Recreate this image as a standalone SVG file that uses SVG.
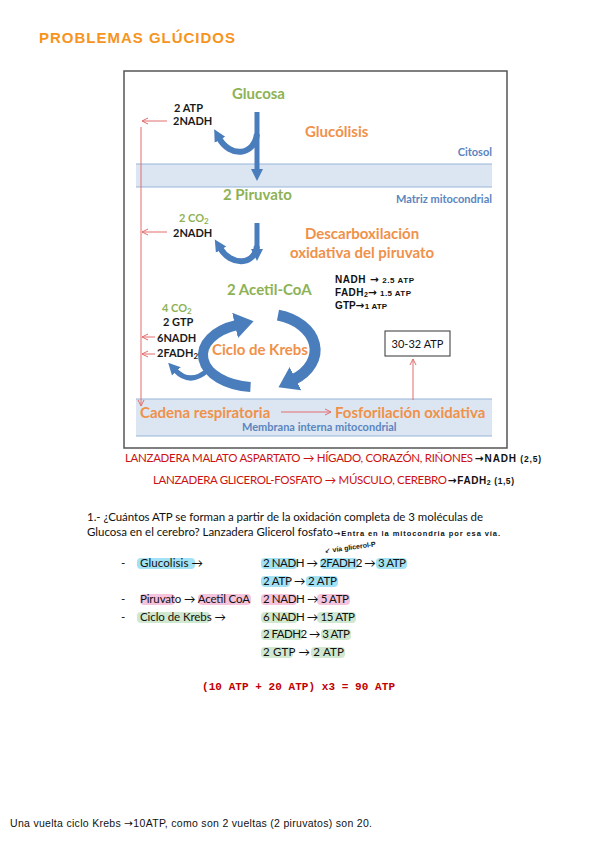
<svg xmlns="http://www.w3.org/2000/svg" width="599" height="848" viewBox="0 0 599 848">
<defs>
<style>
text{font-family:Lato,"Open Sans","Liberation Sans",sans-serif}
.g{fill:#8db255;font-weight:bold;font-size:15px}
.o{fill:#f0914a;font-weight:bold;font-size:15px}
.bl{fill:#5b85c0;font-weight:bold;font-size:11px}
.k{fill:#1a1a1a;font-weight:bold;font-size:11px}
.gs{fill:#8db255;font-weight:bold;font-size:11px}
.hw{font-family:"Liberation Sans",Arial,sans-serif;font-weight:bold;fill:#111}
.ar{font-family:"DejaVu Sans",sans-serif}
.arial{font-family:"Liberation Sans",Arial,sans-serif}
.mono{font-family:"Liberation Mono","Courier New",monospace}
.red{fill:#cc1111;font-size:11.5px}
.body{fill:#111;font-size:11.5px}
.band{fill:#dce6f2}
.bl1{stroke:#95b3d7;stroke-width:1.2}
.rc{stroke:#e36c6c;stroke-width:1;fill:none}
.ba{stroke:#4a7dbb;fill:none}
.hb{fill:#a3e2f4}
.hp{fill:#f6c3dc}
.hg{fill:#cfe8cf}
</style>
<marker id="ra" markerWidth="8" markerHeight="8" refX="7" refY="4" orient="auto" markerUnits="userSpaceOnUse"><path d="M1,1 L7,4 L1,7" fill="none" stroke="#e36c6c" stroke-width="1"/></marker>
<marker id="bah" markerWidth="14" markerHeight="14" refX="2" refY="7" orient="auto" markerUnits="userSpaceOnUse"><path d="M0,1 L12,7 L0,13 Z" fill="#4a7dbb"/></marker>
<marker id="bk" markerWidth="22" markerHeight="26" refX="2" refY="13" orient="auto" markerUnits="userSpaceOnUse"><path d="M0,0 L19,13 L0,26 Z" fill="#4a7dbb"/></marker>
</defs>
<rect width="599" height="848" fill="#ffffff"/>

<text id="title" class="arial" x="39" y="43" fill="#f7941d" font-size="15" font-weight="bold" textLength="196">PROBLEMAS GLÚCIDOS</text>

<g id="figure">
<rect x="124" y="71" width="383" height="377" fill="#fff" stroke="#555" stroke-width="1.5"/>
<rect class="band" x="136" y="164" width="356" height="23"/>
<line class="bl1" x1="136" y1="164" x2="492" y2="164"/>
<line class="bl1" x1="136" y1="187" x2="492" y2="187"/>
<rect class="band" x="136" y="399" width="356" height="37"/>
<line class="bl1" x1="136" y1="399" x2="492" y2="399"/>
<line class="bl1" x1="136" y1="436" x2="492" y2="436"/>
</g>

<g id="connectors">
<line class="ba" x1="257" y1="112" x2="257" y2="171" stroke-width="5" marker-end="url(#bah)"/>
<path class="ba" d="M257,134 C254,156 230,158 219,138" stroke-width="6" marker-end="url(#bah)"/>
<line class="ba" x1="257" y1="223" x2="257" y2="251" stroke-width="5" marker-end="url(#bah)"/>
<path class="ba" d="M257,246 C254,266 231,266 220,248" stroke-width="6" marker-end="url(#bah)"/>
<path class="ba" d="M250.5,386.9 A52,32 0 0 1 237,325" stroke-width="10" marker-end="url(#bk)"/>
<path class="ba" d="M278,315.2 A50,36 0 0 1 293.7,379.5" stroke-width="11" marker-end="url(#bk)"/>
<path class="ba" d="M208,370 Q190,386 175,370" stroke-width="5" marker-end="url(#bah)"/>
<line class="rc" x1="167" y1="121" x2="142" y2="121" marker-end="url(#ra)"/>
<line class="rc" x1="167" y1="232" x2="142" y2="232" marker-end="url(#ra)"/>
<line class="rc" x1="155" y1="337" x2="142" y2="337" marker-end="url(#ra)"/>
<line class="rc" x1="155" y1="354" x2="142" y2="354" marker-end="url(#ra)"/>
<line class="rc" x1="141" y1="127" x2="141" y2="406" marker-end="url(#ra)"/>
<line class="rc" x1="281" y1="412" x2="331" y2="412" marker-end="url(#ra)"/>
<line class="rc" x1="413" y1="400" x2="413" y2="359" marker-end="url(#ra)"/>
</g>

<g id="n-glucosa"><text class="g" x="232" y="99">Glucosa</text></g>
<g id="n-glucolisis-out"><text class="k" x="174" y="112">2 ATP</text><text class="k" x="173" y="125">2NADH</text></g>
<g id="n-glucolisis"><text class="o" x="305" y="137">Glucólisis</text></g>
<g id="n-citosol"><text class="bl" x="492" y="156" text-anchor="end">Citosol</text></g>
<g id="n-piruvato"><text class="g" x="223" y="200">2 Piruvato</text></g>
<g id="n-matriz"><text class="bl" x="492" y="203" text-anchor="end">Matriz mitocondrial</text></g>
<g id="n-descarb-out"><text class="gs" x="179" y="222">2 CO<tspan font-size="8" dy="2">2</tspan></text><text class="k" x="173" y="237">2NADH</text></g>
<g id="n-descarb"><text class="o" x="362" y="239" text-anchor="middle">Descarboxilación</text><text class="o" x="362" y="258" text-anchor="middle">oxidativa del piruvato</text></g>
<g id="n-acetil"><text class="g" x="227" y="295">2 Acetil-CoA</text></g>
<g id="n-equiv">
<text class="hw" x="335" y="283" font-size="10" textLength="79">NADH<tspan class="ar" font-size="10.5"> →</tspan><tspan font-size="8"> 2.5 ATP</tspan></text>
<text class="hw" x="335" y="296" font-size="10" textLength="76">FADH<tspan font-size="7" dy="1">2</tspan><tspan class="ar" font-size="10.5" dy="-1">→</tspan><tspan font-size="8"> 1.5 ATP</tspan></text>
<text class="hw" x="335" y="309" font-size="10" textLength="52">GTP<tspan class="ar" font-size="10.5">→</tspan><tspan font-size="8">1 ATP</tspan></text>
</g>
<g id="n-krebs-out">
<text class="gs" x="162" y="312">4 CO<tspan font-size="8" dy="2">2</tspan></text>
<text class="k" x="163" y="326">2 GTP</text>
<text class="k" x="157" y="342">6NADH</text>
<text class="k" x="157" y="357">2FADH<tspan font-size="8" dy="2">2</tspan></text>
</g>
<g id="n-krebs"><text class="o" x="212" y="355">Ciclo de Krebs</text></g>
<g id="n-atp"><rect x="385" y="331" width="65" height="25" fill="#fff" stroke="#333" stroke-width="1"/><text x="417.5" y="347.5" text-anchor="middle" font-size="11" fill="#111">30-32 ATP</text></g>
<g id="n-cadena"><text class="o" x="140" y="418">Cadena respiratoria</text></g>
<g id="n-fosfo"><text class="o" x="335" y="418">Fosforilación oxidativa</text></g>
<g id="n-membrana"><text class="bl" x="242" y="431">Membrana interna mitocondrial</text></g>

<g id="lanzaderas">
<text class="red" x="125" y="462" textLength="348">LANZADERA MALATO ASPARTATO → HÍGADO, CORAZÓN, RIÑONES</text>
<text class="hw" x="475" y="462" font-size="10" textLength="66"><tspan class="ar" font-size="10.5">→</tspan>NADH <tspan font-size="8.5">(2,5)</tspan></text>
<text class="red" x="153" y="484" textLength="294">LANZADERA GLICEROL-FOSFATO → MÚSCULO, CEREBRO</text>
<text class="hw" x="448" y="484" font-size="10" textLength="66"><tspan class="ar" font-size="10.5">→</tspan>FADH<tspan font-size="7" dy="1">2</tspan><tspan font-size="8.5" dy="-1"> (1,5)</tspan></text>
</g>

<g id="question">
<text class="body" x="87" y="521" textLength="396">1.- ¿Cuántos ATP se forman a partir de la oxidación completa de 3 moléculas de</text>
<text class="body" x="87" y="536" textLength="246">Glucosa en el cerebro? Lanzadera Glicerol fosfato</text>
<text class="hw" x="334" y="536" font-size="7.5" textLength="166"><tspan class="ar">→</tspan>Entra en la mitocondria por esa vía.</text>
<g transform="rotate(-8 335 552)">
<text class="hw" x="325" y="552" font-size="7"><tspan class="ar">↙</tspan> vía glicerol-P</text>
</g>
</g>

<g id="list">
<rect class="hb" x="137" y="558" width="58" height="11" rx="4"/>
<rect class="hb" x="261" y="558" width="36" height="11" rx="4"/>
<rect class="hb" x="320" y="558" width="38" height="11" rx="4"/>
<rect class="hb" x="376" y="558" width="31" height="11" rx="4"/>
<rect class="hb" x="261" y="576" width="29" height="11" rx="4"/>
<rect class="hb" x="306" y="576" width="32" height="11" rx="4"/>
<rect class="hp" x="140" y="594" width="35" height="11" rx="4"/>
<rect class="hp" x="198" y="594" width="53" height="11" rx="4"/>
<rect class="hp" x="261" y="594" width="36" height="11" rx="4"/>
<rect class="hp" x="317" y="594" width="33" height="11" rx="4"/>
<rect class="hg" x="137" y="612" width="73" height="11" rx="4"/>
<rect class="hg" x="261" y="612" width="37" height="11" rx="4"/>
<rect class="hg" x="317" y="612" width="39" height="11" rx="4"/>
<rect class="hg" x="261" y="629" width="42" height="11" rx="4"/>
<rect class="hg" x="321" y="629" width="30" height="11" rx="4"/>
<rect class="hg" x="261" y="647" width="32" height="11" rx="4"/>
<rect class="hg" x="311" y="647" width="34" height="11" rx="4"/>
<text class="body" x="121" y="567">-</text>
<text class="body" x="140" y="567" textLength="63">Glucolisis →</text>
<text class="body" x="263" y="567" textLength="143">2 NADH → 2FADH2 → 3 ATP</text>
<text class="body" x="263" y="585" textLength="74">2 ATP → 2 ATP</text>
<text class="body" x="121" y="603">-</text>
<text class="body" x="140" y="603" textLength="110">Piruvato → Acetil CoA</text>
<text class="body" x="263" y="603" textLength="86">2 NADH → 5 ATP</text>
<text class="body" x="121" y="621">-</text>
<text class="body" x="140" y="621" textLength="86">Ciclo de Krebs →</text>
<text class="body" x="263" y="621" textLength="92">6 NADH → 15 ATP</text>
<text class="body" x="263" y="638" textLength="87">2 FADH2 → 3 ATP</text>
<text class="body" x="263" y="656" textLength="81">2 GTP → 2 ATP</text>
</g>

<g id="result">
<text class="mono" x="202" y="690" fill="#c00000" font-weight="bold" font-size="11" textLength="193">(10 ATP + 20 ATP) x3 = 90 ATP</text>
</g>

<g id="note">
<text class="arial" x="10" y="827" fill="#111" font-size="10.5" textLength="362">Una vuelta ciclo Krebs <tspan class="ar">→</tspan>10ATP, como son 2 vueltas (2 piruvatos) son 20.</text>
</g>
</svg>
